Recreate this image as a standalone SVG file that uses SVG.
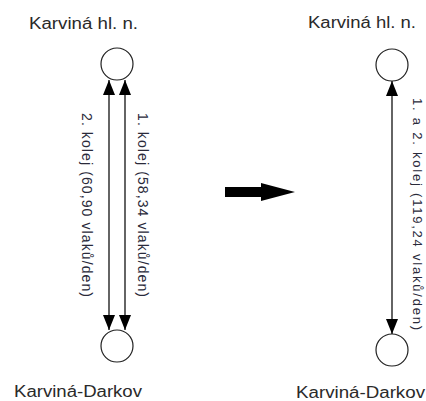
<svg xmlns="http://www.w3.org/2000/svg" width="426" height="401" viewBox="0 0 426 401">
<style>
.lbl{font-family:"Liberation Sans",Arial,sans-serif;font-size:16px;fill:#2a2a2a}
.rot{font-family:"Liberation Sans",Arial,sans-serif;font-size:14px;fill:#2a2a3a}
.node{fill:#fff;stroke:#222;stroke-width:1.2}
.edge{stroke:#111;stroke-width:1.3;fill:none}
</style>
<defs>
<marker id="ah" viewBox="0 0 15 12" refX="15" refY="6" markerWidth="15" markerHeight="12" markerUnits="userSpaceOnUse" orient="auto-start-reverse">
<path d="M0,0 L15,6 L0,12 Z" fill="#000"/>
</marker>
</defs>
<rect width="426" height="401" fill="#fff"/>
<g id="left-top">
<circle class="node" cx="117" cy="64" r="16"/>
<text class="lbl" x="29" y="29" textLength="109" lengthAdjust="spacingAndGlyphs">Karviná hl. n.</text>
</g>
<g id="left-bottom">
<circle class="node" cx="117" cy="346" r="16"/>
<text class="lbl" x="14" y="397" textLength="128" lengthAdjust="spacingAndGlyphs">Karviná-Darkov</text>
</g>
<g id="right-top">
<circle class="node" cx="392" cy="65" r="16"/>
<text class="lbl" x="308" y="28" textLength="108" lengthAdjust="spacingAndGlyphs">Karviná hl. n.</text>
</g>
<g id="right-bottom">
<circle class="node" cx="392" cy="350" r="16"/>
<text class="lbl" x="296" y="398" textLength="129" lengthAdjust="spacingAndGlyphs">Karviná-Darkov</text>
</g>
<g id="connectors">
<line class="edge" x1="109" y1="80" x2="109" y2="330" marker-start="url(#ah)" marker-end="url(#ah)"/>
<line class="edge" x1="125" y1="80" x2="125" y2="330" marker-start="url(#ah)" marker-end="url(#ah)"/>
<line class="edge" x1="392" y1="81" x2="392" y2="334" marker-start="url(#ah)" marker-end="url(#ah)"/>
<text class="rot" transform="translate(82,113) rotate(90)" textLength="184" lengthAdjust="spacing">2. kolej (60,90 vlaků/den)</text>
<text class="rot" transform="translate(138,113) rotate(90)" textLength="184" lengthAdjust="spacing">1. kolej (58,34 vlaků/den)</text>
<text class="rot" transform="translate(413,98) rotate(90)" style="font-size:13px" textLength="232" lengthAdjust="spacing">1. a 2. kolej (119,24 vlaků/den)</text>
</g>
<g id="transition-arrow">
<polygon points="225,187 261,187 261,183 295,192 261,201 261,197 225,197" fill="#000"/>
</g>
</svg>
